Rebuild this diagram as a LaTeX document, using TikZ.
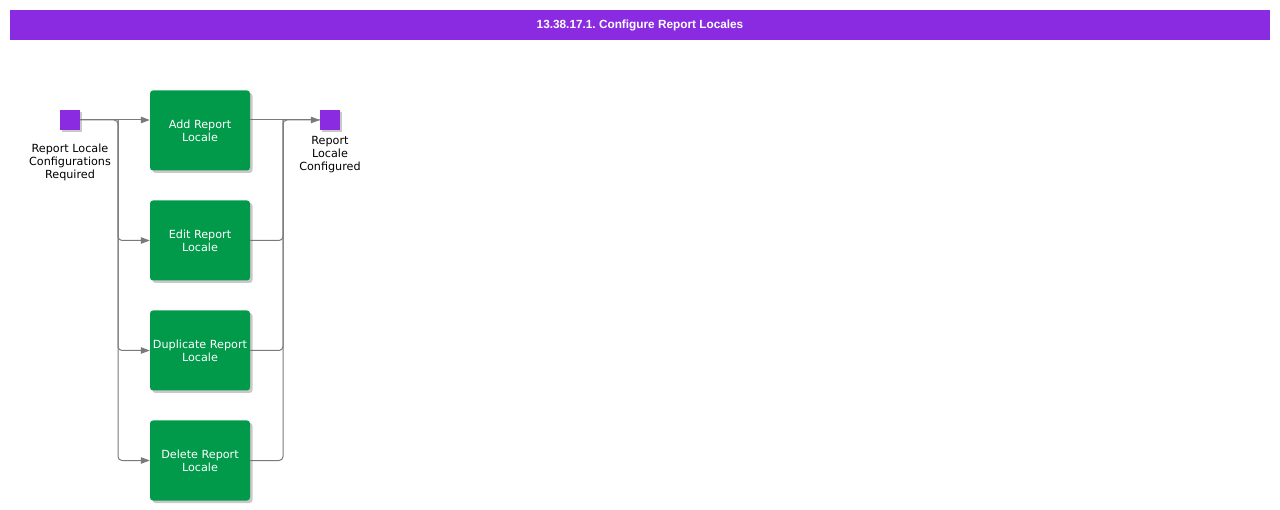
\documentclass[tikz,border=0pt]{standalone}
\usepackage{fontspec}
\setmainfont{DejaVu Sans}
\newfontfamily\titlefont{Liberation Sans}
\usetikzlibrary{shadows,arrows.meta}
\definecolor{bpurple}{HTML}{8A2BE2}
\definecolor{bgreen}{HTML}{009A4A}
\definecolor{lgray}{HTML}{7A7A7A}
\tikzset{
  task/.style={draw=none, fill=bgreen, rounded corners=3pt, minimum width=100pt, minimum height=80pt,
    text=white, align=center, font=\fontsize{11.2}{13}\selectfont, inner sep=0pt,
    drop shadow={shadow xshift=2.5pt, shadow yshift=-2.5pt, fill=black!35, opacity=0.6}},
  ev/.style={draw=none, fill=bpurple, minimum width=20pt, minimum height=20pt, inner sep=0pt,
    drop shadow={shadow xshift=2pt, shadow yshift=-2pt, fill=black!35, opacity=0.6}},
  lbl/.style={align=center, font=\fontsize{11.2}{13}\selectfont, inner sep=0pt, text=black},
  conn/.style={draw=lgray, line width=1pt, rounded corners=4pt},
  arr/.style={-{Triangle[length=9pt,width=6.5pt]}}
}
\begin{document}
\frenchspacing
\begin{tikzpicture}[x=1pt,y=-1pt]
\useasboundingbox (0,0) rectangle (1280,510);
\fill[white] (0,0) rectangle (1280,510);
\node[fill=bpurple, minimum width=1260pt, minimum height=30pt, inner sep=0pt, text=white,
  font=\titlefont\bfseries\fontsize{11.8}{14}\selectfont] (title) at (640,25.5) {13.38.17.1. Configure Report Locales};

\node[ev] (s) at (70,120) {};
\node[lbl, anchor=north] (sl) at (70,143.5) {Report Locale\\Configurations\\Required};

\node[task] (a) at (200,130.5) {Add Report\\Locale};
\node[task] (b) at (200,240.5) {Edit Report\\Locale};
\node[task] (c) at (200,350.5) {Duplicate Report\\Locale};
\node[task] (d) at (200,460.5) {Delete Report\\Locale};

\node[ev] (e) at (330,120) {};
\node[lbl, anchor=north] (el) at (330,136.5) {Report\\Locale\\Configured};

\coordinate (jl) at (118,120);
\coordinate (jr) at (283,120);

\draw[conn,arr] (s.east) -- (a.west |- s.east);
\draw[conn,arr] (s.east) -- (jl) |- (d.west);
\draw[conn,arr] (jl) |- (b.west);
\draw[conn,arr] (jl) |- (c.west);

\draw[conn,arr] (a.east |- e.west) -- (e.west);
\draw[conn] (d.east) -| (jr) -- (e.west);
\draw[conn] (b.east) -| (jr);
\draw[conn] (c.east) -| (jr);
\end{tikzpicture}
\end{document}
